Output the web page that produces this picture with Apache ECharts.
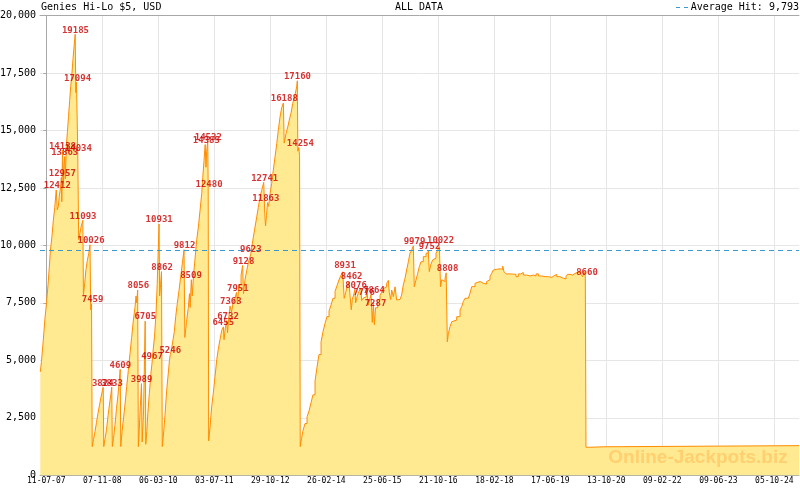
<!DOCTYPE html>
<html>
<head>
<meta charset="utf-8">
<script src="https://cdn.jsdelivr.net/npm/echarts@6/dist/echarts.min.js"></script>
<style>
html,body{margin:0;padding:0;background:#ffffff;}
#chart{width:800px;height:490px;}
</style>
</head>
<body>
<div id="chart"></div>
<script>
// ---- data ----
const chartTitle = 'Genies Hi-Lo $5, USD';
const rangeTitle = 'ALL DATA';
const averageLabel = 'Average Hit: 9,793';
const averageHit = 9793;
const watermark = 'Online-Jackpots.biz';
const baseDate = '2007-07-11';           // day 0 of dayOffsets
const xMinDay = -54.5;
const xMaxDay = 6509;

// x tick labels (dd-mm-yy)
const xTickLabels = ['11-07-07','07-11-08','06-03-10','03-07-11','29-10-12','26-02-14','25-06-15',
  '21-10-16','18-02-18','17-06-19','13-10-20','09-02-22','09-06-23','05-10-24'];

// days since baseDate
const dayOffsets = [
  -52,-42,-26,-11,2,15,26,36,49,61,73,86,95,104,112,123,130,134,140,147,153,159,164,173,182,192,202,211,222,231,240,250,255,261,267,272,280,291,303,316,321,332,343,355,367,378,384,391,397,
  408,421,434,447,460,473,486,492,497,508,521,534,547,558,566,571,581,594,607,620,631,639,644,655,668,681,695,709,724,738,752,767,776,782,790,796,804,813,823,829,841,849,855,860,
  869,878,891,905,916,925,936,949,959,969,975,980,988,996,1003,1012,1027,1041,1055,1065,1072,1082,1096,1107,1119,1133,1148,1162,1176,1191,1198,1212,1228,1238,1244,1254,1262,1273,1286,1301,1315,1329,1344,1353,1364,1374,1381,1387,1396,1400,1404,
  1416,1430,1444,1459,1474,1487,1502,1517,1531,1537,1548,1560,1567,1577,1589,1602,1615,1631,1645,1653,1666,1684,1698,1705,1718,1733,1747,1762,1768,1779,1790,1805,1820,1833,1848,1863,1880,1889,1896,1904,1913,1922,1935,1949,1963,1978,1993,2006,2021,2036,2050,2057,2073,2088,2101,2116,2131,2142,2153,2165,2171,2175,2184,2190,2196,
  2207,2220,2237,2255,2272,2289,2306,2324,2341,2358,2376,2393,2410,2427,2445,2462,2479,2497,2514,2531,2548,2563,2570,2576,2589,2603,2617,2631,2637,2646,2658,2669,2675,2689,2704,2721,2727,2739,2750,2771,2779,2785,2799,2808,2819,2828,2837,2847,2866,2886,2901,2914,2929,2943,2958,2966,2978,2987,3001,3016,3030,3044,3059,3073,3087,3102,3116,3131,3145,3160,3174,3182,3197,3212,3226,3240,3260,3284,3303,3312,3324,3341,3355,3370,3385,3399,3405,3409,3420,3433,3448,3458,
  3468,3477,3491,3506,3520,3549,3578,3592,3606,3621,3649,3664,3679,3707,3722,3751,3779,3808,3822,3837,3852,3866,3872,3895,3909,3924,3947,3958,3975,4010,4039,4062,4082,4102,4125,4154,4183,4212,4235,4255,4284,4313,4341,4371,4391,4414,4442,4471,4494,4506,4529,4552,4572,4592,4609,4624,4638,4650,4661,
  4667,4702,4817,4832,6509
];

// jackpot value (USD) at each day offset
const jackpot = [
  4500,4940,5880,6850,7500,8300,9050,9800,10400,11100,11650,12412,11550,11700,12150,12500,12957,11900,14138,12700,13500,13863,12900,14300,14900,15600,16300,16900,17500,18100,18650,19185,16650,17094,15500,14034,10250,10550,10850,11093,7850,8350,8950,9350,9650,10026,7200,7459,1250,
  1550,1900,2300,2700,3050,3400,3700,3824,1250,1600,2000,2600,3100,3500,3833,1250,1600,2200,2900,3500,4100,4609,1250,1900,2500,3100,3850,4550,5300,6000,6700,7300,7800,7500,8056,1250,2000,3000,3989,1450,2800,5000,6705,1350,
  1900,2700,3550,4450,4967,5500,6050,7050,8300,9900,10931,7800,8300,8862,1250,1700,2650,3700,4450,5000,5246,5450,5900,6250,6900,7480,8050,8630,9200,9812,6000,6650,7300,7900,7300,8509,7800,8700,9400,10250,10800,11500,12250,12950,13700,14385,13400,14100,14532,12480,1500,
  2100,2980,3570,4300,5030,5470,5900,6300,6455,5900,6400,6732,6200,6800,7363,7100,7500,7700,7951,7500,8300,8700,9128,7900,8500,8900,9250,9500,9623,10000,10350,10800,11250,11650,12100,12400,12741,11400,10850,11300,11863,11700,12250,12700,13270,13850,14430,15000,15580,16000,16188,14450,14870,15150,15450,15750,16170,16400,16600,16900,17160,14100,14254,13900,1250,
  1600,1950,2250,2550,2800,3150,3500,4100,4700,5250,5800,6250,6600,6900,7150,7400,7700,8000,8250,8500,8700,8850,8931,7700,7950,8250,8400,8462,7200,7650,7850,8076,7500,7800,8000,8150,7600,7700,7776,8100,8150,7400,7700,7864,6650,7500,6550,7287,7650,7830,7970,8120,8190,8340,8480,7950,7650,8060,7770,8200,7625,7650,7700,7845,8280,8570,8930,9290,9660,9800,9979,8200,8500,8790,9080,9290,9510,9660,9752,8860,9150,9370,9440,9660,9800,9950,10022,8205,8500,8430,8570,8808,
  5810,6170,6460,6680,6750,6900,7190,7340,7560,7700,7770,7920,8205,8350,8430,8350,8320,8430,8500,8640,8790,8930,8960,9000,8980,8960,9100,8860,8760,8750,8740,8640,8760,8820,8710,8670,8710,8670,8760,8670,8640,8640,8610,8680,8740,8640,8570,8540,8640,8740,8710,8780,8820,8860,8860,8740,8640,8860,8660,
  1220,1240,1260,1290,1290
];

// labelled hits
const hitDays = [95,138,140,159,277,270,252,317,387,400,488,568,640,796,824,856,914,976,1001,1072,1195,1251,1407,1384,1401,
  1530,1571,1596,1656,1705,1769,1889,1899,2058,2172,2197,2583,2641,2678,2747,2834,2847,3184,3314,3409,3470,4676];
const hitValues = [12412,12957,14138,13863,14034,17094,19185,11093,10026,7459,3824,3833,4609,8056,3989,6705,4967,10931,8862,5246,9812,8509,12480,14385,14532,
  6455,6732,7363,7951,9128,9623,12741,11863,16188,17160,14254,8931,8462,8076,7776,7864,7287,9979,9752,10022,8808,8660];

// ---- helpers ----
const DAY = 86400000;
function parseIso(s){ const p = s.split('-').map(Number); return Date.UTC(p[0], p[1]-1, p[2]); }
const baseTs = parseIso(baseDate);
function labelToDay(lbl){ const p = lbl.split('-').map(Number); return Math.round((Date.UTC(2000+p[2], p[1]-1, p[0]) - baseTs)/DAY); }
const tickDays = xTickLabels.map(labelToDay);
const avgStep = (tickDays[tickDays.length-1] - tickDays[0]) / (tickDays.length-1);
const minorDays = [];
for (let k = 0; tickDays[0] + k*avgStep/7 <= xMaxDay; k++) { minorDays.push(tickDays[0] + k*avgStep/7); }
function fmtThousands(v){ return String(v).replace(/\B(?=(\d{3})+(?!\d))/g, ','); }
function xLabel(v){
  for (let i = 0; i < tickDays.length; i++) if (Math.abs(tickDays[i]-v) < 0.5) return xTickLabels[i];
  return '';
}

const mono = 'DejaVu Sans Mono';
const gridColor = '#e6e6e6';
const axisColor = '#a8a8a8';

const chart = echarts.init(document.getElementById('chart'), null, {renderer: 'canvas'});
chart.setOption({
  animation: false,
  backgroundColor: '#ffffff',
  grid: {left: 40, right: 1, top: 15.5, bottom: 14.7, containLabel: false, outerBoundsMode: 'none'},
  xAxis: [
    {
      type: 'value', min: xMinDay, max: xMaxDay, position: 'bottom',
      axisLine: {show: true, onZero: false, lineStyle: {color: axisColor, width: 1}},
      axisTick: {show: true, inside: true, length: 6, customValues: tickDays, lineStyle: {color: axisColor}},
      axisLabel: {show: true, customValues: tickDays, formatter: xLabel, margin: 2,
        fontFamily: mono, fontSize: 8, color: '#000'},
      splitLine: {show: true, lineStyle: {color: gridColor, width: 1}}
    },
    {
      type: 'value', min: xMinDay, max: xMaxDay, position: 'bottom',
      axisLine: {show: false},
      axisTick: {show: true, inside: true, length: 3, customValues: minorDays, lineStyle: {color: axisColor}},
      axisLabel: {show: false},
      splitLine: {show: false}
    },
    {
      type: 'value', min: xMinDay, max: xMaxDay, position: 'top',
      axisLine: {show: true, onZero: false, lineStyle: {color: axisColor, width: 1}},
      axisTick: {show: false}, axisLabel: {show: false}, splitLine: {show: false}
    }
  ],
  yAxis: {
    type: 'value', min: 0, max: 20000, interval: 2500,
    axisLine: {show: true, lineStyle: {color: axisColor, width: 1}},
    axisTick: {show: true, length: 3, lineStyle: {color: axisColor}},
    axisLabel: {margin: 4, color: '#000', fontFamily: mono, fontSize: 10, formatter: fmtThousands},
    splitLine: {show: true, lineStyle: {color: gridColor, width: 1}}
  },
  series: [
    {
      type: 'line', xAxisIndex: 0,
      data: dayOffsets.map((d, i) => [d, jackpot[i]]),
      step: 'end', symbol: 'none', silent: true,
      lineStyle: {color: '#ff8c00', width: 1},
      areaStyle: {color: '#ffe991', opacity: 1},
      markLine: {
        silent: true, symbol: 'none', label: {show: false},
        lineStyle: {color: '#3a9ad0', type: [5, 4], width: 1},
        data: [{yAxis: averageHit}]
      },
      z: 2
    },
    {
      type: 'scatter', xAxisIndex: 0, silent: true,
      data: hitDays.map((d, i) => [d, hitValues[i]]),
      symbolSize: 1, itemStyle: {color: 'rgba(0,0,0,0)'},
      label: {show: true, position: 'top', distance: -1,
        formatter: p => String(p.value[1]),
        color: '#cc0000', fontFamily: mono, fontSize: 9, fontWeight: 'bold'},
      z: 5
    }
  ],
  graphic: [
    {type: 'text', x: 41, y: 7.5, z: 100, style: {text: chartTitle, fontFamily: mono, fontSize: 10, fill: '#000', align: 'left', verticalAlign: 'middle'}},
    {type: 'text', x: 419, y: 7.5, z: 100, style: {text: rangeTitle, fontFamily: mono, fontSize: 10, fill: '#000', align: 'center', verticalAlign: 'middle'}},
    {type: 'text', x: 799, y: 7.5, z: 100, style: {text: averageLabel, fontFamily: mono, fontSize: 10, fill: '#000', align: 'right', verticalAlign: 'middle'}},
    {type: 'line', z: 100, shape: {x1: 676, y1: 7.5, x2: 688.5, y2: 7.5}, style: {stroke: '#3a9ad0', lineWidth: 1, lineDash: [4, 4]}},
    {type: 'text', x: 698, y: 458, z: 100, style: {text: watermark, fontFamily: 'Liberation Sans', fontWeight: 'bold', fontSize: 19, fill: '#ffcf70', align: 'center', verticalAlign: 'middle'}}
  ]
});
</script>
</body>
</html>
